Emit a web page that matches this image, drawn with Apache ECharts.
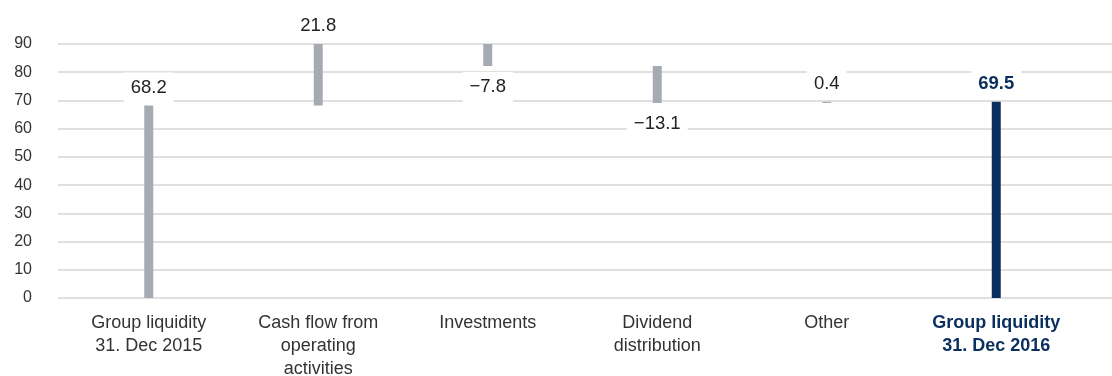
<!DOCTYPE html>
<html><head><meta charset="utf-8">
<script src="https://cdn.jsdelivr.net/npm/echarts@6/dist/echarts.min.js"></script>
<style>html,body{margin:0;padding:0;background:#fff}#c{width:1112px;height:376px}</style>
</head><body><div id="c"></div>
<script>
const categories = ["Group liquidity\n31. Dec 2015", "Cash flow from\noperating\nactivities", "Investments", "Dividend\ndistribution", "Other", "Group liquidity\n31. Dec 2016"];
const changes = [68.2, 21.8, -7.8, -13.1, 0.4, 69.5];
const isTotal = [true, false, false, false, false, true];
const yTickLabels = ["0","10","20","30","40","50","60","70","80","90"];

const FONT = "'Liberation Sans', Arial, Helvetica, sans-serif";
const GREY = '#a6abb3';
const NAVY = '#0a2f5f';

const base = [], heights = [];
let run = 0;
changes.forEach((v, i) => {
  if (isTotal[i]) { base.push(0); heights.push(v); run = v; }
  else if (v >= 0) { base.push(run); heights.push(v); run += v; }
  else { base.push(run + v); heights.push(-v); run += v; }
});
const fmt = v => (v < 0 ? '\u2212' + Math.abs(v).toFixed(1) : v.toFixed(1));

const valueData = heights.map((h, i) => {
  const last = i === heights.length - 1;
  const neg = changes[i] < 0;
  return {
    value: h,
    itemStyle: { color: last ? NAVY : GREY },
    label: {
      show: true,
      position: neg ? 'bottom' : 'top',
      distance: neg ? 6 : 3,
      formatter: fmt(changes[i]),
      color: last ? NAVY : '#222',
      fontWeight: last ? 'bold' : 'normal'
    }
  };
});

const yMin = Number(yTickLabels[0]), yMax = Number(yTickLabels[yTickLabels.length - 1]);
const yInt = Number(yTickLabels[1]) - yMin;

const chart = echarts.init(document.getElementById('c'));
chart.setOption({
  animation: false,
  textStyle: { fontFamily: FONT },
  grid: [
    { left: 58, right: 0, top: 44, bottom: 78, containLabel: false, outerBoundsMode: 'none' },
    { left: 64, right: 31, top: 44, bottom: 78, containLabel: false, outerBoundsMode: 'none' }
  ],
  xAxis: [
    { type: 'category', gridIndex: 0, data: categories, show: false },
    {
      type: 'category', gridIndex: 1, data: categories,
      axisLine: { show: false }, axisTick: { show: false },
      axisLabel: {
        interval: 0, margin: 14, fontSize: 18, lineHeight: 23, color: '#333', fontFamily: FONT,
        formatter: (val, idx) => idx === categories.length - 1
          ? val.split('\n').map(s => '{b|' + s + '}').join('\n')
          : val,
        rich: { b: { fontWeight: 'bold', color: NAVY, fontSize: 18, lineHeight: 23, fontFamily: FONT } }
      }
    }
  ],
  yAxis: [
    {
      type: 'value', gridIndex: 0, min: yMin, max: yMax, interval: yInt,
      axisLine: { show: false }, axisTick: { show: false },
      axisLabel: { margin: 26, fontSize: 16, color: '#333', fontFamily: FONT },
      splitLine: { lineStyle: { color: '#d6d6d6', width: 1.5 } }
    },
    {
      type: 'value', gridIndex: 1, min: yMin, max: yMax, interval: yInt, show: false,
      splitLine: { show: false }
    }
  ],
  series: [
    {
      type: 'bar', xAxisIndex: 1, yAxisIndex: 1, stack: 'w', barWidth: 9, silent: true,
      itemStyle: { color: 'transparent' }, data: base
    },
    {
      type: 'bar', xAxisIndex: 1, yAxisIndex: 1, stack: 'w', barWidth: 9,
      label: {
        show: true, fontSize: 18.5, lineHeight: 18, fontFamily: FONT,
        backgroundColor: '#fff', padding: [6, 7]
      },
      data: valueData
    }
  ]
});
</script>
</body></html>
